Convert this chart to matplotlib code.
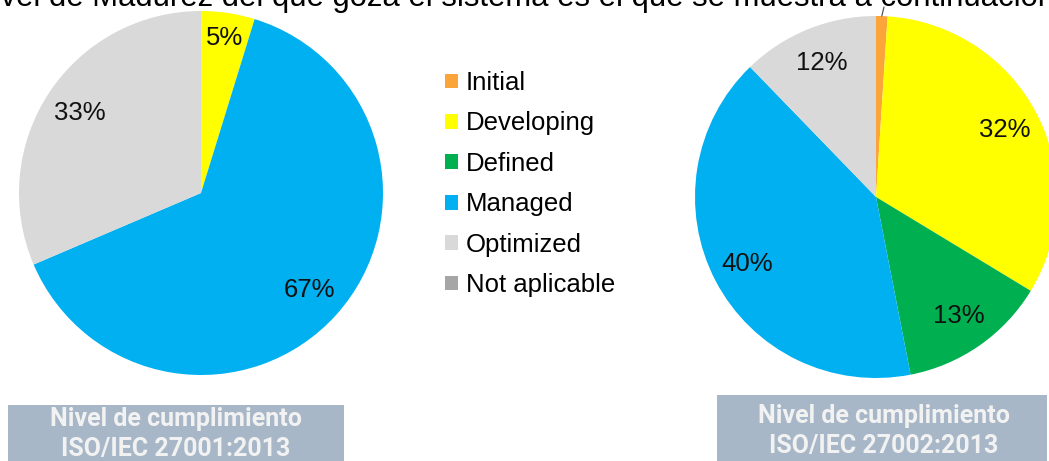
import numpy as np
import matplotlib
matplotlib.use("Agg")
import matplotlib.pyplot as plt
from matplotlib.patches import Patch, Rectangle

plt.rcParams['font.family'] = ['Liberation Sans', 'DejaVu Sans']

W, H = 1049, 461

levels = ['Initial', 'Developing', 'Defined', 'Managed', 'Optimized', 'Not aplicable']
colors = ['#FAA43A', '#FFFF00', '#00B050', '#00B0F0', '#D9D9D9', '#A6A6A6']

# ISO/IEC 27001:2013 (percent labels as shown)
iso27001 = [0, 5, 0, 67, 33, 0]
# ISO/IEC 27002:2013
iso27002 = [1, 32, 13, 40, 12, 0]

captions = [['Nivel de cumplimiento', 'ISO/IEC 27001:2013'],
            ['Nivel de cumplimiento', 'ISO/IEC 27002:2013']]
top_text = 'El nivel de Madurez del que goza el sistema es el que se muestra a continuación.'

fig = plt.figure(figsize=(W / 100, H / 100), dpi=100)


def px_axes(cx, cy, r):
    # axes box around a pie centred at pixel (cx, cy) from the top-left
    return fig.add_axes([(cx - r) / W, (H - cy - r) / H, 2 * r / W, 2 * r / H])


def draw_pie(ax, values):
    vals = [v for v in values if v > 0]
    cols = [c for v, c in zip(values, colors) if v > 0]
    wedges, _ = ax.pie(vals, colors=cols, startangle=90, counterclock=False,
                       wedgeprops=dict(linewidth=0))
    ax.set_xlim(-1, 1)
    ax.set_ylim(-1, 1)
    ax.set_aspect('equal')
    out = []
    for w, v in zip(wedges, vals):
        w.set_clip_on(False)
        mid = np.deg2rad((w.theta1 + w.theta2) / 2)
        out.append((v, mid))
    return out


# left pie
ax1 = px_axes(201, 193, 182)
for v, mid in draw_pie(ax1, iso27001):
    r = 0.86 if v < 10 else 0.8
    ax1.text(r * np.cos(mid), r * np.sin(mid), f'{v}%', ha='center', va='center',
             fontsize=18.5, color='#111111')

# right pie
ax2 = px_axes(876, 197, 181)
for v, mid in draw_pie(ax2, iso27002):
    x0, y0 = np.cos(mid), np.sin(mid)
    if v < 3:
        # leader line only, its label sits above the cropped top edge
        ax2.annotate('', xy=(x0, y0), xytext=(x0 + 0.012, y0 + 0.05),
                     annotation_clip=False,
                     arrowprops=dict(arrowstyle='-', color='#555555', lw=0.9,
                                     shrinkA=0, shrinkB=0))
    else:
        ax2.text(0.8 * x0, 0.8 * y0, f'{v}%', ha='center', va='center',
                 fontsize=18.5, color='#111111')

# legend
handles = [Patch(facecolor=c, edgecolor='none') for c in colors]
fig.legend(handles, levels, loc='upper left', bbox_to_anchor=(445 / W, 1 - 71 / H),
           frameon=False, fontsize=18.5, handlelength=0.5, handleheight=0.5,
           handletextpad=0.3, labelspacing=0.64, borderpad=0, borderaxespad=0)

# caption boxes
boxes = [(8, 405, 344, 470, 176, 419, 449), (717, 395, 1047, 461, 884, 416, 446)]
for (x0, y0, x1, y1, tx, t1, t2), cap in zip(boxes, captions):
    fig.patches.append(Rectangle((x0 / W, 1 - y1 / H), (x1 - x0) / W, (y1 - y0) / H,
                                 transform=fig.transFigure, facecolor='#A7B7C7',
                                 edgecolor='none', zorder=0))
    for ty, s in zip((t1, t2), cap):
        fig.text(tx / W, 1 - ty / H, s, ha='center', va='center', fontsize=18,
                 fontweight='bold', color='#F2F2F2', family=['Roboto', 'DejaVu Sans'])

# sentence cut at the top edge
fs_top = 22.3
fig.canvas.draw()
r = fig.canvas.get_renderer()
probe = fig.text(0, 0, 'El ni', fontsize=fs_top)
shift = probe.get_window_extent(r).width
probe.remove()
fig.text((1 - shift) / W, 1 - 6 / H, top_text, ha='left', va='baseline',
         fontsize=fs_top, color='#000000')

fig.savefig('out.png', dpi=100)
